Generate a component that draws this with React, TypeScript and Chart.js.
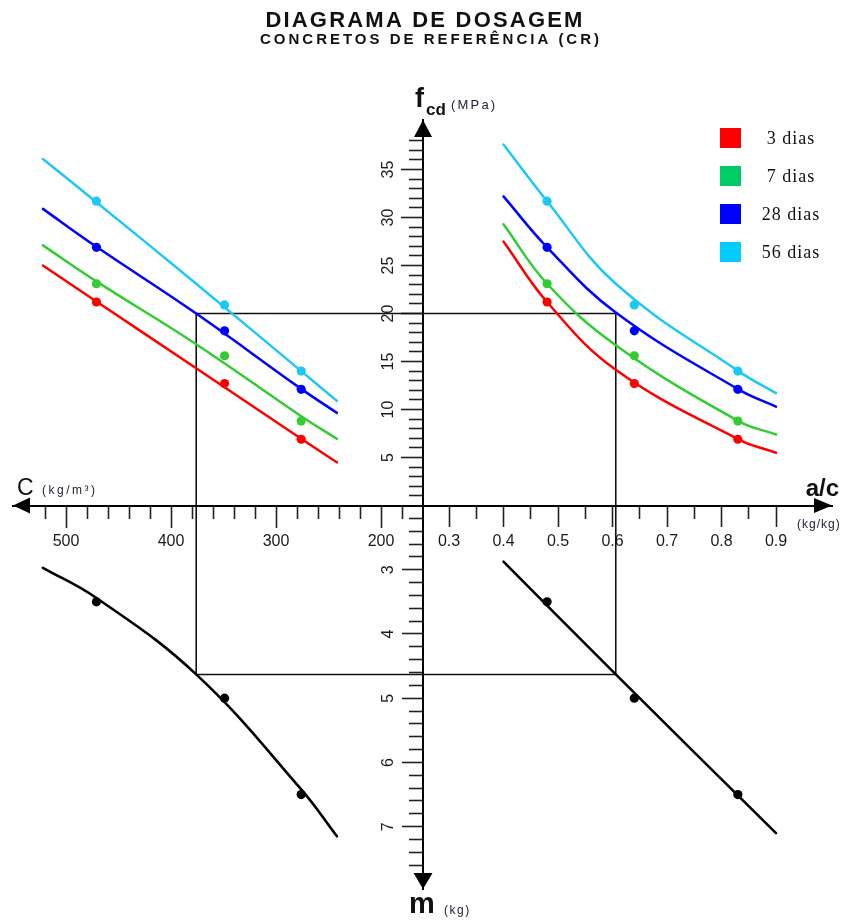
import React, { useEffect, useRef } from 'react';
import { Chart, registerables } from 'chart.js';

Chart.register(...registerables);

// ---------- texts ----------
const TITLE = 'DIAGRAMA DE DOSAGEM';
const SUBTITLE = 'CONCRETOS DE REFERÊNCIA (CR)';
const SERIES_LABELS = ['3 dias', '7 dias', '28 dias', '56 dias'];

// ---------- test points (ensaios) ----------
const C_TEST = [471, 349, 276];          // consumo de cimento (kg/m³)
const AC_TEST = [0.48, 0.64, 0.83];      // relação a/c (kg/kg)
const M_TEST = [3.5, 5.0, 6.5];          // traço m (kg)
const FCD_3D = [21.2, 12.7, 6.9];
const FCD_7D = [23.1, 15.6, 8.8];
const FCD_28D = [26.9, 18.2, 12.1];
const FCD_56D = [31.7, 20.9, 14.0];

// ---------- fitted curves ----------
const C_CURVE = [522, 471, 376, 276, 242];
const FCD_C_3D = [25.0, 21.25, 14.3, 6.95, 4.5];
const FCD_C_7D = [27.1, 23.35, 16.8, 9.3, 6.95];
const FCD_C_28D = [30.9, 26.95, 20.0, 12.15, 9.65];
const FCD_C_56D = [36.1, 31.6, 23.1, 14.0, 10.9];

const AC_CURVE = [0.40, 0.48, 0.606, 0.831, 0.90];
const FCD_AC_3D = [27.5, 21.2, 14.15, 6.9, 5.5];
const FCD_AC_7D = [29.3, 23.1, 16.7, 8.8, 7.4];
const FCD_AC_28D = [32.2, 26.9, 20.1, 12.1, 10.3];
const FCD_AC_56D = [37.6, 31.7, 23.1, 14.0, 11.7];

const M_C_CURVE = [2.97, 3.44, 4.63, 6.42, 7.15];
const AC_LINE = [0.40, 0.606, 0.90];
const M_AC_LINE = [2.875, 4.63, 7.1];

// ---------- design example (rectangle) ----------
const DESIGN_FCD = 20;
const DESIGN_C = 376;
const DESIGN_AC = 0.606;
const DESIGN_M = 4.63;

// ---------- axis origins (where the four axes meet) ----------
const ORIGIN_C = 160;
const ORIGIN_AC = 0.25;
const ORIGIN_FCD = 0;
const ORIGIN_M = 2;

// ---------- ticks ----------
const C_TICKS = [200, 300, 400, 500];
const C_MINOR = [180, 220, 240, 260, 280, 320, 340, 360, 380, 420, 440, 460, 480, 520];
const AC_TICKS = [0.3, 0.4, 0.5, 0.6, 0.7, 0.8, 0.9];
const AC_MINOR = [0.35, 0.45, 0.55, 0.65, 0.75, 0.85];
const FCD_TICKS = [5, 10, 15, 20, 25, 30, 35];
const FCD_MINOR = [1, 2, 3, 4, 6, 7, 8, 9, 11, 12, 13, 14, 16, 17, 18, 19, 21, 22, 23, 24, 26, 27, 28, 29, 31, 32, 33, 34, 36, 37, 38];
const M_TICKS = [3, 4, 5, 6, 7];
const M_MINOR = [2.2, 2.4, 2.6, 2.8, 3.2, 3.4, 3.6, 3.8, 4.2, 4.4, 4.6, 4.8, 5.2, 5.4, 5.6, 5.8, 6.2, 6.4, 6.6, 6.8, 7.2, 7.4, 7.6];

// ---------- styles ----------
const SERIES_COLORS = ['#ff0000', '#33cc33', '#0000ff', '#1ec8f5'];
const LEGEND_COLORS = ['#ff0000', '#00cc66', '#0000ff', '#00ccff'];
const SANS = "'Liberation Sans', Arial, Helvetica, sans-serif";
const SERIF = "'Liberation Serif', 'Times New Roman', serif";
const TICK_COLOR = '#222';

const FCD_SERIES = [FCD_3D, FCD_7D, FCD_28D, FCD_56D];
const FCD_C_SERIES = [FCD_C_3D, FCD_C_7D, FCD_C_28D, FCD_C_56D];
const FCD_AC_SERIES = [FCD_AC_3D, FCD_AC_7D, FCD_AC_28D, FCD_AC_56D];

const zip = (xs: number[], ys: number[]) => xs.map((x, i) => ({ x, y: ys[i] }));

function zeroPad(scale: any) {
  scale.paddingLeft = 0;
  scale.paddingRight = 0;
  scale.paddingTop = 0;
  scale.paddingBottom = 0;
}

function makeScale(o: {
  axis: 'x' | 'y';
  position: any;
  min: number;
  max: number;
  reverse?: boolean;
  ticks: number[];
  tickLength: number;
  labels: boolean;
  border: boolean;
  fmt?: (v: number) => string;
}) {
  return {
    type: 'linear',
    axis: o.axis,
    position: o.position,
    min: o.min,
    max: o.max,
    reverse: !!o.reverse,
    border: { display: o.border, color: '#000', width: 2 },
    grid: {
      drawOnChartArea: false,
      drawTicks: true,
      tickLength: o.tickLength,
      tickColor: TICK_COLOR,
      tickWidth: 1.6,
      color: TICK_COLOR,
    },
    ticks: {
      display: o.labels,
      autoSkip: false,
      maxRotation: 0,
      minRotation: 0,
      padding: 5,
      color: '#1a1a1a',
      font: { family: SANS, size: 16 },
      callback: (v: number) => (o.fmt ? o.fmt(v) : String(v)),
    },
    afterBuildTicks: (scale: any) => {
      scale.ticks = o.ticks.map((v) => ({ value: v }));
    },
    afterFit: zeroPad,
  };
}

// scale ranges chosen so that the four quadrants meet at the origin values
const X_C_MIN = -229.52, X_C_MAX = 550.48;
const X_AC_MIN = -0.5, X_AC_MAX = 1.00275;
const Y_F_MIN = -39.95, Y_F_MAX = 40.16;
const Y_M_MIN = -4.0, Y_M_MAX = 7.97;

function buildDatasets() {
  const ds: any[] = [];
  const marker = (data: any, xAxisID: string, yAxisID: string, color: string, label: string) => ({
    label, data, xAxisID, yAxisID, showLine: false,
    pointRadius: 4.6, pointBorderWidth: 0,
    backgroundColor: color, borderColor: color,
  });
  const curve = (data: any, xAxisID: string, yAxisID: string, color: string, label: string, width = 2.5) => ({
    label, data, xAxisID, yAxisID, showLine: true,
    pointRadius: 0, borderWidth: width, borderColor: color, backgroundColor: color,
    tension: 0.4, fill: false, borderCapStyle: 'round',
  });
  SERIES_LABELS.forEach((lab, i) => {
    ds.push(marker(zip(C_TEST, FCD_SERIES[i]), 'xC', 'yF', SERIES_COLORS[i], lab + ' – C'));
    ds.push(marker(zip(AC_TEST, FCD_SERIES[i]), 'xAC', 'yF', SERIES_COLORS[i], lab + ' – a/c'));
  });
  ds.push(marker(zip(C_TEST, M_TEST), 'xC', 'yM', '#000', 'm – C'));
  ds.push(marker(zip(AC_TEST, M_TEST), 'xAC', 'yM', '#000', 'm – a/c'));
  SERIES_LABELS.forEach((lab, i) => {
    ds.push(curve(zip(C_CURVE, FCD_C_SERIES[i]), 'xC', 'yF', SERIES_COLORS[i], lab + ' curva C'));
    ds.push(curve(zip(AC_CURVE, FCD_AC_SERIES[i]), 'xAC', 'yF', SERIES_COLORS[i], lab + ' curva a/c'));
  });
  ds.push(curve(zip(C_CURVE, M_C_CURVE), 'xC', 'yM', '#000', 'curva m – C', 2.6));
  ds.push(curve(zip(AC_LINE, M_AC_LINE), 'xAC', 'yM', '#000', 'curva m – a/c', 2.6));
  // rectangle of the design example, one L per quadrant
  const rect = (data: any, xAxisID: string, yAxisID: string) => ({
    label: 'exemplo', data, xAxisID, yAxisID, showLine: true, pointRadius: 0,
    borderWidth: 1.6, borderColor: '#111', tension: 0, fill: false,
  });
  ds.push(rect([{ x: DESIGN_C, y: ORIGIN_FCD }, { x: DESIGN_C, y: DESIGN_FCD }, { x: ORIGIN_C, y: DESIGN_FCD }], 'xC', 'yF'));
  ds.push(rect([{ x: ORIGIN_AC, y: DESIGN_FCD }, { x: DESIGN_AC, y: DESIGN_FCD }, { x: DESIGN_AC, y: ORIGIN_FCD }], 'xAC', 'yF'));
  ds.push(rect([{ x: DESIGN_AC, y: ORIGIN_M }, { x: DESIGN_AC, y: DESIGN_M }, { x: ORIGIN_AC, y: DESIGN_M }], 'xAC', 'yM'));
  ds.push(rect([{ x: ORIGIN_C, y: DESIGN_M }, { x: DESIGN_C, y: DESIGN_M }, { x: DESIGN_C, y: ORIGIN_M }], 'xC', 'yM'));
  return ds;
}

function tri(ctx: CanvasRenderingContext2D, pts: number[][]) {
  ctx.beginPath();
  ctx.moveTo(pts[0][0], pts[0][1]);
  ctx.lineTo(pts[1][0], pts[1][1]);
  ctx.lineTo(pts[2][0], pts[2][1]);
  ctx.closePath();
  ctx.fill();
}

const decorPlugin = {
  id: 'decor',
  beforeDatasetsDraw(chart: any) {
    const ctx: CanvasRenderingContext2D = chart.ctx;
    const x0 = chart.scales.xC.getPixelForValue(ORIGIN_C);
    ctx.save();
    ctx.fillStyle = '#1a1a1a';
    ctx.font = `16px ${SANS}`;
    ctx.textAlign = 'center';
    ctx.textBaseline = 'middle';
    const drawRot = (scale: any, vals: number[]) => {
      vals.forEach((v) => {
        const y = scale.getPixelForValue(v);
        ctx.save();
        ctx.translate(x0 - 35, y);
        ctx.rotate(-Math.PI / 2);
        ctx.fillText(String(v), 0, 1);
        ctx.restore();
      });
    };
    drawRot(chart.scales.yF, FCD_TICKS);
    drawRot(chart.scales.yM, M_TICKS);
    ctx.restore();
  },
  afterDraw(chart: any) {
    const ctx: any = chart.ctx;
    const a = chart.chartArea;
    const x0 = chart.scales.xC.getPixelForValue(ORIGIN_C);
    const y0 = chart.scales.yF.getPixelForValue(ORIGIN_FCD);
    ctx.save();
    ctx.fillStyle = '#000';
    // arrows
    tri(ctx, [[a.left, y0], [a.left + 17, y0 - 8], [a.left + 17, y0 + 8]]);
    tri(ctx, [[a.right, y0], [a.right - 18, y0 - 7.5], [a.right - 18, y0 + 7.5]]);
    tri(ctx, [[x0, a.top], [x0 - 9, a.top + 17], [x0 + 9, a.top + 17]]);
    tri(ctx, [[x0, a.bottom], [x0 - 9.5, a.bottom - 16], [x0 + 9.5, a.bottom - 16]]);

    // axis titles
    ctx.textBaseline = 'alphabetic';
    ctx.textAlign = 'left';
    ctx.fillStyle = '#111';
    ctx.font = `23px ${SANS}`;
    ctx.fillText('C', a.left + 4, y0 - 11);
    ctx.fillStyle = '#223';
    ctx.letterSpacing = '2.5px';
    ctx.font = `12px ${SANS}`;
    ctx.fillText('(kg/m³)', a.left + 29, y0 - 12);

    ctx.letterSpacing = '0px';
    ctx.fillStyle = '#111';
    ctx.font = `bold 24px ${SANS}`;
    ctx.textAlign = 'right';
    ctx.fillText('a/c', a.right + 7, y0 - 10);
    ctx.fillStyle = '#223';
    ctx.letterSpacing = '1px';
    ctx.font = `12px ${SANS}`;
    ctx.textAlign = 'left';
    ctx.fillText('(kg/kg)', a.right - 35, y0 + 22);

    ctx.letterSpacing = '0px';
    ctx.fillStyle = '#111';
    ctx.font = `bold 27px ${SANS}`;
    ctx.fillText('f', x0 - 8, a.top - 13);
    ctx.font = `bold 17px ${SANS}`;
    ctx.fillText('cd', x0 + 3, a.top - 5);
    ctx.fillStyle = '#223';
    ctx.letterSpacing = '2.2px';
    ctx.font = `13px ${SANS}`;
    ctx.fillText('(MPa)', x0 + 28, a.top - 11);

    ctx.letterSpacing = '0px';
    ctx.fillStyle = '#111';
    ctx.font = `bold 29px ${SANS}`;
    ctx.fillText('m', x0 - 14, a.bottom + 24);
    ctx.fillStyle = '#223';
    ctx.letterSpacing = '1.5px';
    ctx.font = `12px ${SANS}`;
    ctx.fillText('(kg)', x0 + 21, a.bottom + 25);

    // title
    ctx.textAlign = 'center';
    ctx.fillStyle = '#111';
    ctx.letterSpacing = '2.2px';
    ctx.font = `bold 22px ${SANS}`;
    ctx.fillText(TITLE, 425, 27);
    ctx.letterSpacing = '3px';
    ctx.font = `bold 15px ${SANS}`;
    ctx.fillText(SUBTITLE, 431, 44);

    // legend
    ctx.letterSpacing = '1px';
    ctx.font = `18px ${SERIF}`;
    ctx.textBaseline = 'middle';
    SERIES_LABELS.forEach((lab, i) => {
      const top = 128 + i * 38;
      ctx.fillStyle = LEGEND_COLORS[i];
      ctx.fillRect(720, top, 21, 20);
      ctx.fillStyle = '#111';
      ctx.fillText(lab, 791, top + 11);
    });
    ctx.letterSpacing = '0px';
    ctx.restore();
  },
};

export default function App() {
  const ref = useRef<HTMLCanvasElement>(null);
  useEffect(() => {
    const yPos = { xC: ORIGIN_C };
    const xPos = { yF: ORIGIN_FCD };
    const chart = new Chart(ref.current as HTMLCanvasElement, {
      type: 'scatter',
      data: { datasets: buildDatasets() },
      options: {
        responsive: false,
        animation: false,
        events: [],
        layout: { autoPadding: false, padding: { left: 13, right: 22, top: 120, bottom: 31 } },
        plugins: { legend: { display: false }, title: { display: false }, tooltip: { enabled: false } },
        scales: {
          xC: makeScale({ axis: 'x', position: xPos, min: X_C_MIN, max: X_C_MAX, reverse: true, ticks: C_TICKS, tickLength: 21, labels: true, border: true }),
          xCm: makeScale({ axis: 'x', position: xPos, min: X_C_MIN, max: X_C_MAX, reverse: true, ticks: C_MINOR, tickLength: 13, labels: false, border: false }),
          xAC: makeScale({ axis: 'x', position: xPos, min: X_AC_MIN, max: X_AC_MAX, ticks: AC_TICKS, tickLength: 21, labels: true, border: false, fmt: (v) => v.toFixed(1) }),
          xACm: makeScale({ axis: 'x', position: xPos, min: X_AC_MIN, max: X_AC_MAX, ticks: AC_MINOR, tickLength: 13, labels: false, border: false }),
          yF: makeScale({ axis: 'y', position: yPos, min: Y_F_MIN, max: Y_F_MAX, ticks: FCD_TICKS, tickLength: 21, labels: false, border: true }),
          yFm: makeScale({ axis: 'y', position: yPos, min: Y_F_MIN, max: Y_F_MAX, ticks: FCD_MINOR, tickLength: 14, labels: false, border: false }),
          yM: makeScale({ axis: 'y', position: yPos, min: Y_M_MIN, max: Y_M_MAX, reverse: true, ticks: M_TICKS, tickLength: 21, labels: false, border: false }),
          yMm: makeScale({ axis: 'y', position: yPos, min: Y_M_MIN, max: Y_M_MAX, reverse: true, ticks: M_MINOR, tickLength: 14, labels: false, border: false }),
        } as any,
      } as any,
      plugins: [decorPlugin as any],
    });
    return () => chart.destroy();
  }, []);
  return (
    <canvas
      ref={ref}
      width={854}
      height={920}
      style={{ position: 'absolute', left: 0, top: 0, display: 'block' }}
    />
  );
}
